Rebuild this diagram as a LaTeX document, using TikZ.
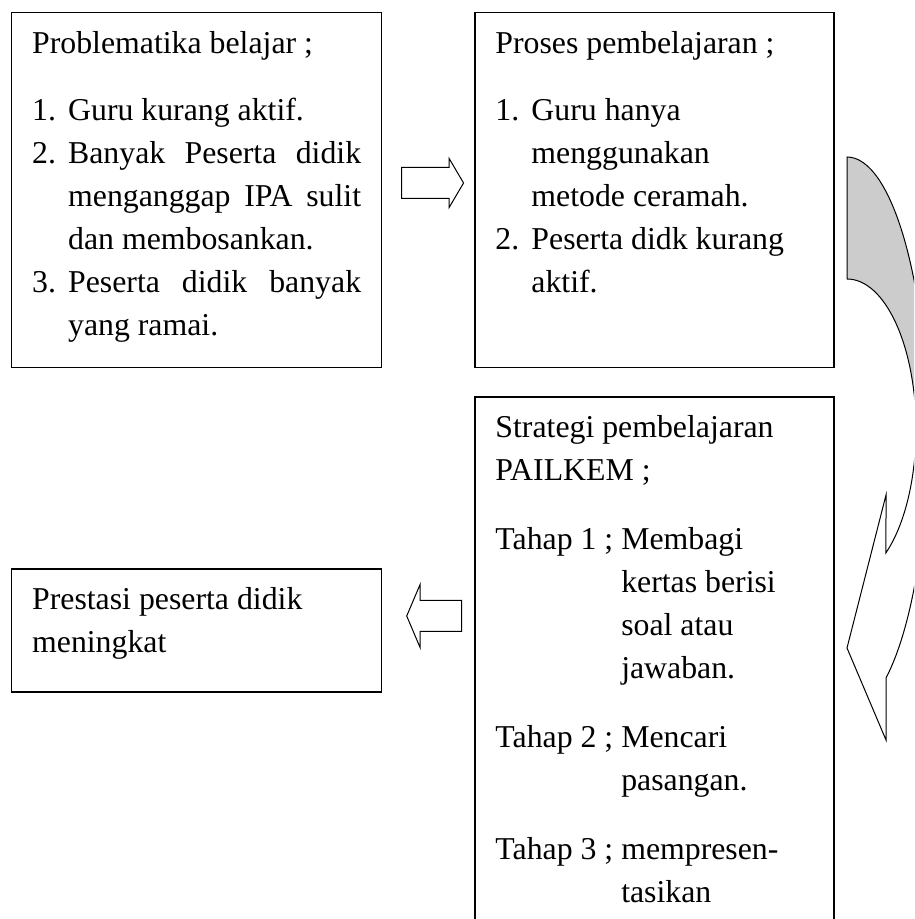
\documentclass[tikz,border=0pt]{standalone}
\usepackage{fontspec}
\setmainfont{Liberation Serif}
\usetikzlibrary{positioning}
\usetikzlibrary{shapes.arrows}

\hbadness=10000
\hyphenpenalty=10000
\newlength{\tahapw}
% isi kotak: lebar, tinggi, teks
\newcommand{\isi}[3]{\parbox[t][#2][t]{#1}{\rule{0pt}{41pt}#3}}
\newcommand{\butir}[2]{\par\hangindent=36pt\hangafter=1\noindent\makebox[36pt][l]{#1}#2}
\newcommand{\tahap}[2]{\par\vspace{26pt}\settowidth{\tahapw}{Tahap #1 ;\ }%
  \hangindent=\tahapw\hangafter=1\noindent Tahap #1 ; #2}

\begin{document}
\begin{tikzpicture}[x=1pt, y=1pt]
    \tikzstyle{kotak}=[draw, line width=1.3pt, inner xsep=20.5pt, inner ysep=0pt,
                      font=\fontsize{31.8}{43}\selectfont]
    \tikzstyle{blok}=[draw, single arrow, line width=1pt, inner xsep=0pt, inner ysep=15pt, fill=white]
    \tikzstyle{panah}=[draw, line width=1pt]
    \useasboundingbox (0,0) rectangle (914,919);
    \clip (0,0) rectangle (914,919);
    % Kotak-kotak
    \node[kotak, anchor=north west] (masalah) at (11,907) {\isi{329pt}{355pt}{%
        Problematika belajar ;\par\vspace{24pt}
        \butir{1.}{Guru kurang aktif.}
        \butir{2.}{Banyak Peserta didik\linebreak menganggap IPA sulit\linebreak dan membosankan.}
        \butir{3.}{Peserta didik banyak\linebreak yang ramai.}}};
    \node[kotak, right=92pt of masalah] (proses) {\isi{318pt}{355pt}{\raggedright
        Proses pembelajaran ;\par\vspace{24pt}
        \butir{1.}{Guru hanya\newline menggunakan\newline metode ceramah.}
        \butir{2.}{Peserta didk kurang\newline aktif.}}};
    \node[kotak, below=28pt of proses] (strategi) {\isi{318pt}{565pt}{\raggedright
        Strategi pembelajaran\\PAILKEM ;
        \tahap{1}{Membagi\newline kertas berisi\newline soal atau\newline jawaban.}
        \tahap{2}{Mencari\newline pasangan.}
        \tahap{3}{mempresen-\newline tasikan}}};
    \node[kotak, below=200pt of masalah] (prestasi) {\isi{329pt}{123pt}{\raggedright
        Prestasi peserta didik\\meningkat}};
    % Panah blok
    \node[blok, minimum height=62pt, single arrow head extend=9pt,
          single arrow tip angle=119] (kanan) at (428,736) {};
    \node[blok, shape border rotate=180, minimum height=55pt,
          single arrow head extend=16pt, single arrow tip angle=134] (kiri) at (437.5,303) {};
    % Panah lengkung
    \coordinate (luar) at (847,484);
    \coordinate (dalam) at (847,490);
    \path[panah, fill=black!20] (luar) ++(0,278) arc[start angle=90, end angle=0, x radius=80.7, y radius=278]
        -- ([xshift=69pt]dalam) arc[start angle=0, end angle=90, x radius=69, y radius=150] -- cycle;
    \path[panah, fill=white] ([xshift=69pt]dalam) arc[start angle=0, end angle=-55.6, x radius=69, y radius=150]
        -- (886,424) -- (847,271) -- (886,179) -- (886,241)
        arc[start angle=-60.9, end angle=0, x radius=80.7, y radius=278] -- cycle;
\end{tikzpicture}
\end{document}
